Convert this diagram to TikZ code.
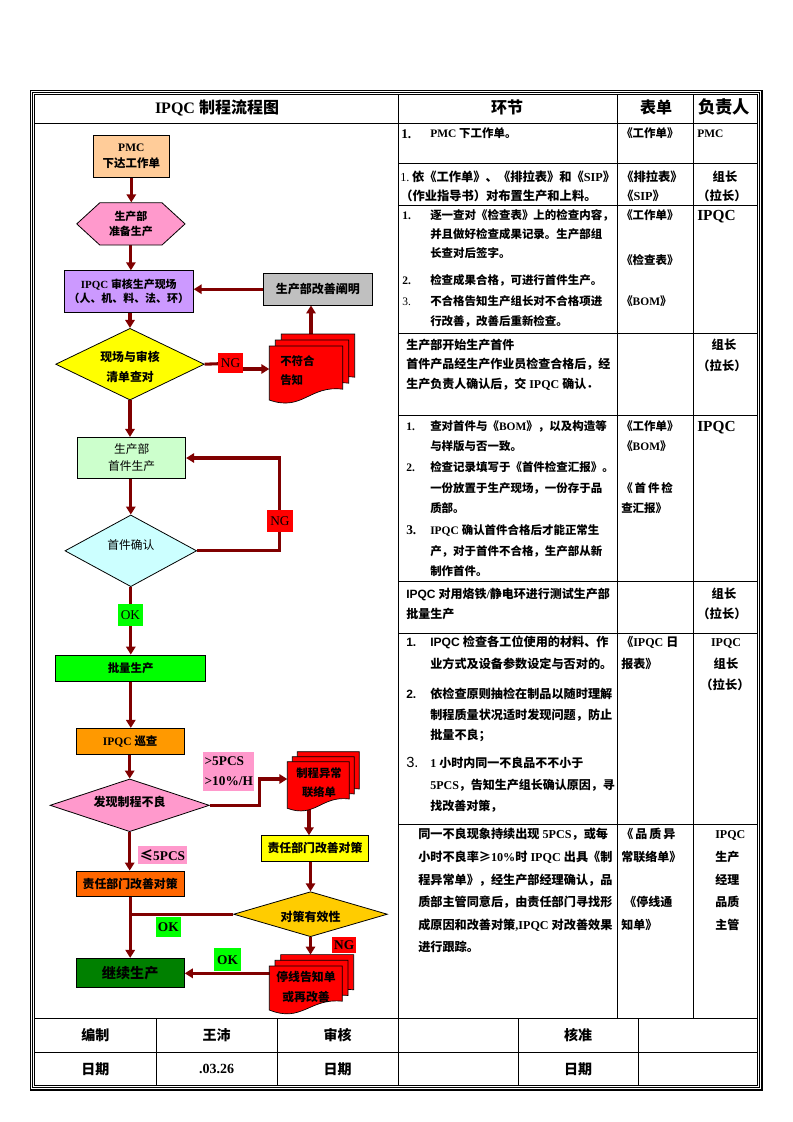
\documentclass[tikz,border=0pt]{standalone}
\usepackage{fontspec}
\setmainfont{Liberation Serif}
\newfontfamily\cjkf{Noto Sans CJK SC}
\newfontfamily\arl{Liberation Sans}
\usetikzlibrary{arrows.meta,shapes.geometric,shapes.symbols}
\pgfdeclarelayer{bot}\pgfdeclarelayer{bg}
\pgfsetlayers{bot,bg,main}
% automatic font switching for CJK characters
\XeTeXinterchartokenstate=1
\newXeTeXintercharclass\CJKcls
\newcount\cjkc
\def\setcjkrange#1#2{\cjkc=#1\relax\loop\XeTeXcharclass\cjkc=\CJKcls\relax\ifnum\cjkc<#2\relax\advance\cjkc by 1\repeat}
\setcjkrange{"4E00}{"9FFF}
\setcjkrange{"3000}{"303F}
\setcjkrange{"FF00}{"FFEF}
\XeTeXcharclass"2264=\CJKcls
\XeTeXcharclass"2265=\CJKcls
\XeTeXinterchartoks 0 \CJKcls = {\cjkf}
\XeTeXinterchartoks 4095 \CJKcls = {\cjkf}
\XeTeXinterchartoks \CJKcls 0 = {\rmfamily}
\XeTeXinterchartoks \CJKcls 4095 = {\rmfamily}

\definecolor{arrowc}{HTML}{800000}
\definecolor{cPMC}{HTML}{FFCC99}
\definecolor{cPink}{HTML}{FF99CC}
\definecolor{cLav}{HTML}{CC99FF}
\definecolor{cGray}{HTML}{C0C0C0}
\definecolor{cYel}{HTML}{FFFF00}
\definecolor{cLG}{HTML}{CCFFCC}
\definecolor{cCyan}{HTML}{CCFFFF}
\definecolor{cGreen}{HTML}{00FF00}
\definecolor{cOrange}{HTML}{FF9900}
\definecolor{cRO}{HTML}{FF6600}
\definecolor{cDG}{HTML}{008000}
\definecolor{cGold}{HTML}{FFCC00}
\definecolor{cRed}{HTML}{FF0000}

\newcounter{tl}
\newcommand\TL[4][8.6]{\stepcounter{tl}\node[tx,font=\fontsize{#1}{12}\selectfont\bfseries] (tl\the\value{tl}) at (#2,#3) {#4};}
\newcommand\TC[4][8.6]{\stepcounter{tl}\node[tx,anchor=base,font=\fontsize{#1}{12}\selectfont\bfseries] (tl\the\value{tl}) at (#2,#3) {#4};}
\newcommand\docsheet[5]{\filldraw[docst] ({#1},{#2}) -- ({#1+#3},{#2}) -- ({#1+#3},{#2+0.8*#4}) .. controls ({#1+0.55*#3},{#2+0.72*#4}) and ({#1+0.45*#3},{#2+#5*#4}) .. ({#1},{#2+#4}) -- cycle;}
\newcommand\docstack[6]{\docsheet{#1+2*#6}{#2-2*#6}{#3}{#4}{#5}\docsheet{#1+#6}{#2-#6}{#3}{#4}{#5}\docsheet{#1}{#2}{#3}{#4}{#5}}

\begin{document}
\begin{tikzpicture}[x=0.75pt,y=-0.75pt,
  arr/.style={draw=arrowc,line width=2.3pt,-{Triangle[length=6pt,width=7pt]}},
  lin/.style={draw=arrowc,line width=2.3pt},
  shp/.style={draw=black,line width=0.6pt,inner sep=0pt,align=center,font=\fontsize{8.6}{11.6}\selectfont\bfseries},
  sz/.style 2 args={minimum width=#1*0.75pt,minimum height=#2*0.75pt},
  lab/.style={inner sep=0pt,align=center,font=\fontsize{10}{12}\selectfont},
  blab/.style={lab,font=\fontsize{10}{12}\selectfont\bfseries},
  ftx/.style={inner sep=0pt,align=center,font=\fontsize{8.8}{12}\selectfont\bfseries},
  grid/.style={line width=0.7pt},
  tx/.style={anchor=base west,inner sep=0pt},
  hd/.style={inner sep=0pt,font=\fontsize{12}{14}\selectfont\bfseries},
  fo/.style={inner sep=0pt,font=\fontsize{10.5}{12}\selectfont\bfseries},
  docst/.style={fill=cRed,draw=black,line width=0.5pt},
]
\begin{pgfonlayer}{bot}
\fill[white] (0,0) rectangle (793,1122);
\end{pgfonlayer}
\useasboundingbox (0,0) rectangle (793,1122);

% ---------- frame and grid ----------
\draw[line width=0.7pt] (34.5,94.5) rectangle (757.5,1085.5);
\draw[line width=0.7pt] (32.3,92.3) rectangle (759.7,1087.7);
\draw[line width=0.9pt] (30.1,90.1) rectangle (761.9,1089.9);
\draw[grid] (34.5,123) -- (757.5,123);
\draw[grid] (398,94.5) -- (398,1085.5);
\draw[grid] (617.5,94.5) -- (617.5,1018);
\draw[grid] (693,94.5) -- (693,1018);
\foreach \y in {163,205,333,415,581,633,824} \draw[grid] (398,\y) -- (757.5,\y);
\draw[grid] (34.5,1018) -- (757.5,1018);
\draw[grid] (34.5,1052) -- (757.5,1052);
\foreach \x in {156,277,518,638} \draw[grid] (\x,1018) -- (\x,1085.5);

% ---------- header ----------
\node[hd] (h1) at (217,108) {IPQC 制程流程图};
\node[hd] (h2) at (507,107) {环节};
\node[hd] (h3) at (656,107) {表单};
\node[hd,font=\fontsize{13}{14}\selectfont\bfseries] (h4) at (724,107) {负责人};

% ---------- flow shapes ----------
\node[shp,sz={76}{42.3},fill=cPMC] (pmc) at (131.3,156.2) {PMC\\下达工作单};
\node[shp,signal,signal to=east and west,signal pointer angle=85,sz={108.3}{42.3},fill=cPink,font=\fontsize{8.2}{11.6}\selectfont\bfseries] (prep) at (130.9,223.9) {生产部\\准备生产};
\node[shp,sz={129}{41.6},fill=cLav,font=\fontsize{8.2}{10.5}\selectfont\bfseries] (ipqc) at (128.8,291.5) {IPQC 审核生产现场\\（人、机、料、法、环）};
\node[shp,sz={109}{31.7},fill=cGray,font=\fontsize{9}{11}\selectfont\bfseries] (gray) at (317.8,289.2) {生产部改善阐明};
\node[shp,diamond,sz={148.6}{71.7},fill=cYel] (d1) at (130,364.2) {};
\node[ftx,font=\fontsize{8.9}{15}\selectfont\bfseries] (d1t) at (130,367) {现场与审核\\清单查对};
\node[shp,sz={108}{41},fill=cLG,font=\fontsize{8.8}{12.5}\selectfont] (g1) at (131.7,457.8) {生产部\\首件生产};
\node[shp,diamond,sz={131.7}{71.7},fill=cCyan] (d2) at (130.8,550.8) {};
\node[ftx,font=\fontsize{8.8}{12}\selectfont] (d2t) at (130.8,545) {首件确认};
\node[shp,sz={150}{26},fill=cGreen] (bulk) at (130.7,668) {批量生产};
\node[shp,sz={108.3}{26},fill=cOrange] (patrol) at (130.2,741.3) {IPQC 巡查};
\node[shp,diamond,sz={159.3}{52.7},fill=cPink] (d3) at (129.7,805.3) {};
\node[ftx,font=\fontsize{9}{12}\selectfont\bfseries] (d3t) at (129.7,802) {发现制程不良};
\node[shp,sz={108.3}{25},fill=cRO,font=\fontsize{8.9}{11}\selectfont\bfseries] (resp1) at (130.2,883.5) {责任部门改善对策};
\node[shp,sz={108.3}{29.4},fill=cDG,font=\fontsize{10.6}{12}\selectfont\bfseries] (cont) at (130.2,973) {继续生产};
\node[shp,sz={106.6}{25.3},fill=cYel,font=\fontsize{8.9}{11}\selectfont\bfseries] (resp2) at (315,848.3) {责任部门改善对策};
\node[shp,diamond,sz={153.7}{45},fill=cGold] (d4) at (310.5,914.2) {};
\node[ftx,font=\fontsize{9}{12}\selectfont\bfseries] (d4t) at (310.5,916.5) {对策有效性};

% document stacks
\docstack{269.3}{346}{73.4}{54}{1.22}{6}
\node[ftx,anchor=west,align=left,font=\fontsize{8.6}{14.25}\selectfont\bfseries] (doc1t) at (280,370.5) {不符合\\告知};
\docstack{287.3}{761.7}{62}{46.6}{1.22}{5}
\node[ftx,font=\fontsize{8.5}{14.5}\selectfont\bfseries] (doc2t) at (319,783) {制程异常\\联络单};
\docstack{269.3}{966}{73}{44}{1.3}{5.7}
\node[ftx,font=\fontsize{8.9}{15}\selectfont\bfseries] (doc3t) at (306,986.7) {停线告知单\\或再改善};
\coordinate (doc1w) at (269.3,369);
\coordinate (doc1n) at (311,337);
\coordinate (doc2w) at (287.3,779);
\coordinate (doc2s) at (309,806);
\coordinate (doc3n) at (310.5,954.6);
\coordinate (doc3w) at (271,973.3);
\coordinate (loop2) at (279.3,458);
\coordinate (k3) at (259.3,779);

% labels
\node[lab,fill=cRed,sz={24.4}{20}] (ng1) at (230.5,363.3) {NG};
\node[lab,fill=cRed,sz={25.4}{21.7}] (ng2) at (280,520.8) {NG};
\node[lab,fill=cGreen,sz={24.4}{21.7}] (ok1) at (130.5,614.8) {OK};
\node[blab,fill=cPink,sz={51}{39},align=left,font=\fontsize{10}{15}\selectfont\bfseries] (gt5) at (228.8,771.5) {>5PCS\\>10\%/H};
\node[blab,fill=cPink,sz={48.4}{18}] (le5) at (162.5,855) {≤5PCS};
\node[blab,fill=cGreen,sz={24.7}{20}] (ok2) at (168.3,926.7) {OK};
\node[blab,fill=cRed,sz={23.7}{16}] (ng3) at (344.2,945.3) {NG};
\node[blab,fill=cGreen,sz={26.4}{22.7}] (ok3) at (227.5,959.7) {OK};

% ---------- connectors ----------
\begin{pgfonlayer}{bg}
\draw[arr] (pmc.south) -- (pmc.south |- prep.north);
\draw[arr] (prep.south) -- (prep.south |- ipqc.north);
\draw[arr] (gray.west) -- (gray.west -| ipqc.east);
\draw[arr] (ipqc.south -| d1.north) -- (d1.north);
\draw[lin] (d1.east) -- (ng1.center);
\draw[arr] (ng1.center |- doc1w) -- (doc1w);
\draw[arr] (doc1n) -- (doc1n |- gray.south);
\draw[arr] (d1.south) -- (d1.south |- g1.north);
\draw[arr] (g1.south -| d2.north) -- (d2.north);
\draw[arr] (d2.east) -| (loop2) -- (loop2 -| g1.east);
\draw[arr] (d2.south) -- (d2.south |- bulk.north);
\draw[arr] (bulk.south -| d2.south) -- (d2.south |- patrol.north);
\draw[arr] (patrol.south -| d3.north) -- (d3.north);
\draw[arr] (d3.east) -| (k3) -- (doc2w);
\draw[arr] (doc2s) -- (doc2s |- resp2.north);
\draw[arr] (resp2.south -| d4.north) -- (d4.north);
\draw[lin] (d4.west) -- (d4.west -| resp1.south);
\draw[arr] (d3.south) -- (d3.south |- resp1.north);
\draw[arr] (resp1.south) -- (resp1.south |- cont.north);
\draw[arr] (d4.south) -- (doc3n);
\draw[arr] (doc3w) -- (doc3w -| cont.east);
\end{pgfonlayer}

% ---------- table text ----------
% row 1
\TL[10]{401}{138}{1.}
\TL{430}{137.5}{PMC 下工作单。}
\TL{621}{137.5}{《工作单》}
\TL{697}{137.5}{PMC}
% row 2
\TL[9.2]{400}{181.5}{{\mdseries 1.}\hspace{2pt}依《工作单》、《排拉表》和《SIP》}
\TL[9.2]{400}{200.5}{（作业指导书）对布置生产和上料。}
\TL[9.2]{621}{181.5}{《排拉表》}
\TL[9.2]{621}{200.5}{《SIP》}
\TC[9.2]{725}{181.5}{组长}
\TC[9.2]{722}{200.5}{（拉长）}
% row 3
\TL{402}{219.5}{1.}
\TL{430}{219.5}{逐一查对《检查表》上的检查内容，}
\TL{430}{238.5}{并且做好检查成果记录。生产部组}
\TL{430}{257.5}{长查对后签字。}
\TL{402}{284.5}{2.}
\TL{430}{284.5}{检查成果合格，可进行首件生产。}
\TL{402}{305.5}{\mdseries 3.}
\TL{430}{305.5}{不合格告知生产组长对不合格项进}
\TL{430}{325.5}{行改善，改善后重新检查。}
\TL{621}{219.5}{《工作单》}
\TL{621}{264.5}{《检查表》}
\TL{621}{305.5}{《BOM》}
\TL[11.5]{697}{220}{IPQC}
% row 4
\TL[9]{406}{349.5}{生产部开始生产首件}
\TL[9]{406}{368.5}{首件产品经生产作业员检查合格后，经}
\TL[9]{406}{388.5}{生产负责人确认后，交 IPQC 确认．}
\TC[9.2]{724}{349.5}{组长}
\TC[9.2]{722}{370.5}{（拉长）}
% row 5
\TL{406}{430.5}{1.}
\TL{430}{430.5}{查对首件与《BOM》，以及构造等}
\TL{430}{450.5}{与样版与否一致。}
\TL{406}{471.5}{2.}
\TL{430}{471.5}{检查记录填写于《首件检查汇报》。}
\TL{430}{492.5}{一份放置于生产现场，一份存于品}
\TL{430}{512.5}{质部。}
\TL[10]{406}{534.5}{3.}
\TL{430}{534.5}{IPQC 确认首件合格后才能正常生}
\TL{430}{555.5}{产，对于首件不合格，生产部从新}
\TL{430}{575.5}{制作首件。}
\TL{621}{430.5}{《工作单》}
\TL{621}{450.5}{《BOM》}
\TL{621}{492.5}{《\,首\,件\,检}
\TL{621}{512.5}{查汇报》}
\TL[11.5]{697}{431}{IPQC}
% row 6
\TL[9]{406}{598.5}{{\arl IPQC} 对用烙铁/静电环进行测试生产部}
\TL[9]{406}{618.5}{批量生产}
\TC[9.2]{724}{598.5}{组长}
\TC[9.2]{722}{618.5}{（拉长）}
% row 7
\TL[9]{406}{646.5}{\arl 1.}
\TL[9.1]{430}{646.5}{{\arl IPQC} 检查各工位使用的材料、作}
\TL[9.1]{430}{668.5}{业方式及设备参数设定与否对的。}
\TL[9]{406}{698.5}{\arl 2.}
\TL[9.1]{430}{698.5}{依检查原则抽检在制品以随时理解}
\TL[9.1]{430}{719.5}{制程质量状况适时发现问题，防止}
\TL[9.1]{430}{739.5}{批量不良；}
\TL[11]{406}{767.5}{\arl\mdseries 3.}
\TL[9]{430}{767.5}{1 小时内同一不良品不不小于}
\TL[9]{430}{789.5}{5PCS，告知生产组长确认原因，寻}
\TL[9]{430}{810.5}{找改善对策，}
\TL[9]{621}{646.5}{《IPQC 日}
\TL[9]{621}{668.5}{报表》}
\TC[9]{726}{646.5}{IPQC}
\TC[9.2]{726}{668.5}{组长}
\TC[9.2]{725}{689.5}{（拉长）}
% row 8
\TL[9.1]{418}{838.5}{同一不良现象持续出现 5PCS，或每}
\TL[9.1]{418}{861.5}{小时不良率≥10\%时 IPQC 出具《制}
\TL[9.1]{418}{884.5}{程异常单》，经生产部经理确认，品}
\TL[9.1]{418}{906.5}{质部主管同意后，由责任部门寻找形}
\TL[9.1]{418}{929.5}{成原因和改善对策,IPQC 对改善效果}
\TL[9.1]{418}{951.5}{进行跟踪。}
\TL[9]{621}{838.5}{《\,品\,质\,异}
\TL[9]{621}{861.5}{常联络单》}
\TL[9]{624}{906.5}{《停线通}
\TL[9]{621}{929.5}{知单》}
\TL[9]{715}{838.5}{IPQC}
\TL[9]{715}{861.5}{生产}
\TL[9]{715}{884.5}{经理}
\TL[9]{715}{906.5}{品质}
\TL[9]{715}{929.5}{主管}

% ---------- footer ----------
\node[fo] (f1) at (95.3,1035) {编制};
\node[fo] (f2) at (216.5,1035) {王沛};
\node[fo] (f3) at (337.5,1035) {审核};
\node[fo] (f4) at (578,1035) {核准};
\node[fo] (f5) at (95.3,1069) {日期};
\node[fo] (f6) at (216.5,1069) {.03.26};
\node[fo] (f7) at (337.5,1069) {日期};
\node[fo] (f8) at (578,1069) {日期};
\end{tikzpicture}
\end{document}
